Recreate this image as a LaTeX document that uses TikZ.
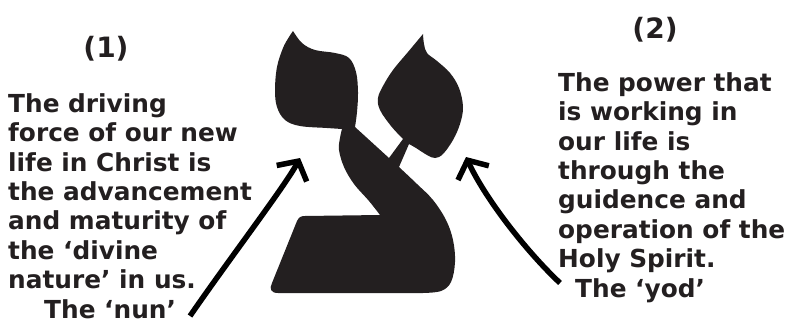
\documentclass[tikz,border=0pt]{standalone}
\usepackage{fontspec}
\setmainfont{DejaVu Sans}
\usetikzlibrary{arrows.meta}
\definecolor{ink}{HTML}{231F20}
\tikzset{
  bodytext/.style={inner sep=0pt, align=left, text=ink, font=\bfseries\fontsize{24.8}{29.35}\selectfont},
  numlabel/.style={inner sep=0pt, text=ink, font=\bfseries\fontsize{28}{30}\selectfont},
  pointer/.style={draw=black, line width=5.5pt, -{Straight Barb[length=14pt,width=34pt]}},
  glyph/.style={fill=ink}
}
\begin{document}
\begin{tikzpicture}[x=1pt,y=-1pt]
\useasboundingbox (0,0) rectangle (791,326);
% Tsade letter
\fill[glyph] (293,31)
  -- plot[smooth, tension=0.6] coordinates {(293,31) (302,43) (315,50) (335,53) (349,58) (356,72) (358,92) (357,112) (355,127)}
  -- (389,158) -- (403,139)
  -- plot[smooth, tension=0.6] coordinates {(403,139) (391,126) (380,110) (378,98) (383,86) (393,70) (408,52) (418,40) (423,34)}
  -- plot[smooth, tension=0.6] coordinates {(423,34) (424,44) (427,53) (437,61) (450,73) (459,88) (463,107) (460,124) (453,140) (443,154) (435,158) (427,155) (416,148) (409,144)}
  -- (399,167)
  -- plot[smooth, tension=0.6] coordinates {(399,167) (417,184) (433,200) (446,220) (453,240) (455,262) (451,282) (441,291) (423,293)}
  -- (278,293) .. controls (271,293) and (269,289) .. (272,283)
  -- (297,221) .. controls (299,217) and (301,216) .. (305,216) -- (380,215)
  -- plot[smooth, tension=0.6] coordinates {(380,215) (369,201) (354,184) (344,167) (339,150) (340,138) (342,129)}
  -- plot[smooth, tension=0.6] coordinates {(342,129) (327,128) (300,126) (285,120) (277,107) (275,90) (277,67) (283,48) (289,37) (293,31)}
  -- cycle;
% labels
\node[numlabel] (n1) at (106,49) {(1)};
\node[numlabel] (n2) at (655,30) {(2)};
\node[bodytext, anchor=base west] (ltxt) at (8,318) {The driving\\force of our new\\life in Christ is\\the advancement\\and maturity of\\the ‘divine\\nature’ in us.\\\hspace*{36pt}The ‘nun’};
\node[bodytext, anchor=base west] (rtxt) at (558,297) {The power that\\is working in\\our life is\\through the\\guidence and\\operation of the\\Holy Spirit.\\\hspace*{17pt}The ‘yod’};
% arrows
\coordinate (ltail) at (190,316);
\coordinate (ltip) at (300,158);
\coordinate (rtail) at (560,283);
\coordinate (rtip) at (466,157);
\draw[pointer] (ltail) .. controls (230,258) and (285,186) .. (ltip);
\draw[pointer] (rtail) .. controls (525,250) and (485,198) .. (rtip);
\end{tikzpicture}
\end{document}
